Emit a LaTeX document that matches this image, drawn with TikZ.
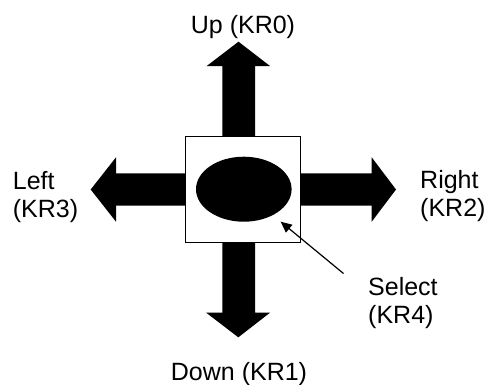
\documentclass[tikz,border=0pt]{standalone}
\usepackage{fontspec}
\setmainfont{Liberation Sans}
\usetikzlibrary{arrows.meta,shapes.geometric}
\begin{document}
\begin{tikzpicture}[x=1pt,y=-1pt,
  bigarrow/.style={fill=black,draw=none},
  lbl/.style={inner sep=0pt,font=\fontsize{25}{28}\selectfont},
  keybox/.style={draw=black,fill=white,line width=1.2pt},
  pointer/.style={line width=1.2pt,-{Triangle[length=11pt,width=10pt]}}]
\useasboundingbox (0,0) rectangle (486,384);
% big arrows
\fill[bigarrow] (222.3,137) -- (222.3,66) -- (206.7,66) -- (238.5,41.7) -- (270,66) -- (255,66) -- (255,137) -- cycle;
\fill[bigarrow] (222.3,242) -- (222.3,312.7) -- (206.2,312.7) -- (238.3,337.3) -- (270,312.7) -- (255,312.7) -- (255,242) -- cycle;
\fill[bigarrow] (186,173.3) -- (116,173.3) -- (116,157.3) -- (90.7,189.5) -- (116,221.7) -- (116,205.7) -- (186,205.7) -- cycle;
\fill[bigarrow] (301,173.3) -- (371.7,173.3) -- (371.7,157.3) -- (396,189.5) -- (371.7,221.7) -- (371.7,205.7) -- (301,205.7) -- cycle;
% key
\node[keybox,minimum width=115pt,minimum height=105.6pt,inner sep=0pt] (key) at (243.2,189.5) {};
\node[fill=black,ellipse,minimum width=95.6pt,minimum height=65pt,inner sep=0pt] (sel) at (243.8,189.2) {};
\coordinate (ptr) at (343.5,273.5);
\draw[pointer] (ptr) -- (280.7,221.7);
% labels
\node[lbl,anchor=base] (up) at (243,33) {Up (KR0)};
\node[lbl,anchor=base] (down) at (239,380) {Down (KR1)};
\node[lbl,anchor=base west] (left) at (12.7,189) {Left};
\node[lbl,anchor=base west] (left2) at (12.7,217) {(KR3)};
\node[lbl,anchor=base west] (right) at (420,188) {Right};
\node[lbl,anchor=base west] (right2) at (420,216) {(KR2)};
\node[lbl,anchor=base west] (select) at (368,295) {Select};
\node[lbl,anchor=base west] (select2) at (368,323) {(KR4)};
\end{tikzpicture}
\end{document}
